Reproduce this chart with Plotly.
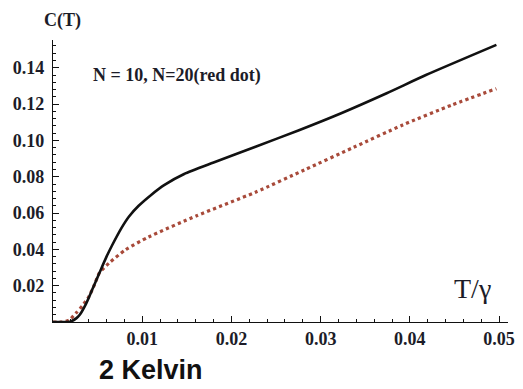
import plotly.graph_objects as go

# N = 10 (black solid)
t_n10 = [0, 0.001, 0.002, 0.0026, 0.003, 0.0037, 0.0045, 0.0052, 0.006, 0.0066,
         0.0077, 0.0085, 0.0096, 0.011, 0.0125, 0.0147, 0.018, 0.0227, 0.0275,
         0.0323, 0.0374, 0.0418, 0.0497]
c_n10 = [0, 0, 0.0003, 0.002, 0.004, 0.010, 0.019, 0.027, 0.036, 0.042,
         0.052, 0.058, 0.064, 0.070, 0.0755, 0.0815, 0.0878, 0.0965, 0.1055,
         0.1150, 0.1260, 0.1360, 0.1526]

# N = 20 (red dotted)
t_n20 = [0, 0.001, 0.0018, 0.0026, 0.0033, 0.004, 0.0046, 0.0052, 0.0063, 0.0081,
         0.0107, 0.0161, 0.0227, 0.0282, 0.0337, 0.0392, 0.0447, 0.0497]
c_n20 = [0, 0, 0.001, 0.005, 0.009, 0.0138, 0.020, 0.027, 0.0325, 0.0397,
         0.0468, 0.0585, 0.0715, 0.0838, 0.0962, 0.1085, 0.1195, 0.1285]

x_ticks = [0.01, 0.02, 0.03, 0.04, 0.05]
x_labels = ["0.01", "0.02", "0.03", "0.04", "0.05"]
y_ticks = [0.02, 0.04, 0.06, 0.08, 0.10, 0.12, 0.14]
y_labels = ["0.02", "0.04", "0.06", "0.08", "0.10", "0.12", "0.14"]

fig = go.Figure()
fig.add_trace(go.Scatter(x=t_n20, y=c_n20, mode="lines",
                         line=dict(color="#a84a3a", width=3.2, dash="dot",
                                   shape="spline", smoothing=0.6),
                         showlegend=False))
fig.add_trace(go.Scatter(x=t_n10, y=c_n10, mode="lines",
                         line=dict(color="#111111", width=2.6,
                                   shape="spline", smoothing=0.6),
                         showlegend=False))

tickfont = dict(family="Liberation Serif", size=18, color="#1c1c28", weight="bold")

fig.update_layout(
    width=523, height=389,
    margin=dict(l=53, r=8, t=40, b=67),
    paper_bgcolor="white", plot_bgcolor="white",
    xaxis=dict(range=[0, 0.051], showgrid=False, zeroline=False,
               showline=True, linecolor="#111", linewidth=1.3,
               tickvals=x_ticks, ticktext=x_labels,
               ticks="inside", ticklen=6, tickcolor="#111", tickwidth=1,
               tickfont=tickfont,
               minor=dict(dtick=0.002, tick0=0, ticks="inside", ticklen=3,
                          tickcolor="#111", showgrid=False)),
    yaxis=dict(range=[0, 0.1553], showgrid=False, zeroline=False,
               showline=True, linecolor="#111", linewidth=1.3,
               tickvals=y_ticks, ticktext=y_labels,
               ticks="inside", ticklen=6, tickcolor="#111", tickwidth=1,
               tickfont=tickfont, ticklabelstandoff=4,
               minor=dict(dtick=0.004, tick0=0, ticks="inside", ticklen=3,
                          tickcolor="#111", showgrid=False)),
)

fig.add_annotation(text="<b>C(T)</b>", xref="paper", yref="paper",
                   x=(42 - 53) / 462, y=1.0, yshift=20, xanchor="left", yanchor="middle",
                   showarrow=False,
                   font=dict(family="Liberation Serif", size=18, color="#1c1c28"))
fig.add_annotation(text="<b>N = 10, N=20(red dot)</b>", xref="paper", yref="paper",
                   x=(92 - 53) / 462, y=(322 - 76) / 282, xanchor="left", yanchor="middle",
                   showarrow=False,
                   font=dict(family="Liberation Serif", size=18, color="#1c1c28"))
fig.add_annotation(text="T/γ", xref="paper", yref="paper",
                   x=(458 - 53) / 462, y=(322 - 288) / 282, xanchor="left", yanchor="middle",
                   showarrow=False,
                   font=dict(family="Liberation Serif", size=28, color="#1c1c28"))
fig.add_annotation(text="<b>2 Kelvin</b>", xref="paper", yref="paper",
                   x=(152 - 53) / 462, y=-(370 - 322) / 282, xanchor="center", yanchor="middle",
                   showarrow=False,
                   font=dict(family="Liberation Sans", size=27, color="#111"))

fig.write_html("out.html")
